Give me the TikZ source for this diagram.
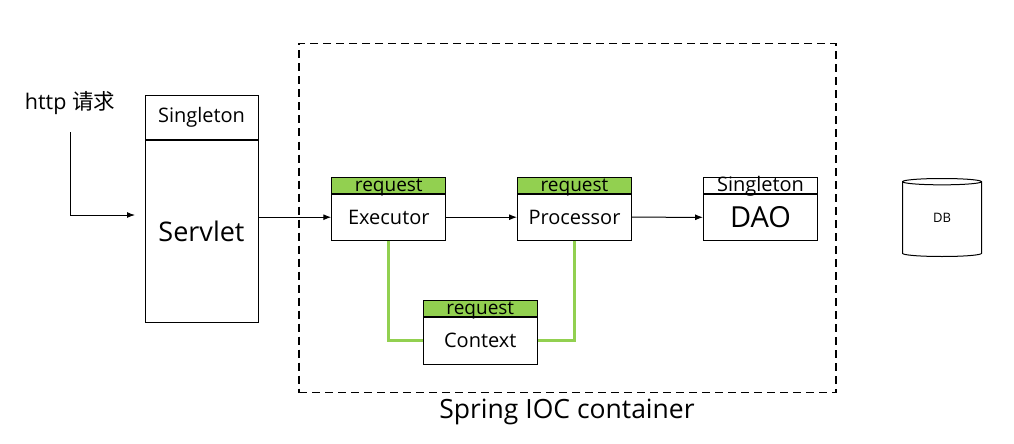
\documentclass[tikz,border=0pt]{standalone}
\usepackage{fontspec}
\setmainfont{Open Sans}
\newfontfamily\cjk{Noto Sans CJK SC}
\usetikzlibrary{shapes.geometric, arrows.meta, positioning}
\definecolor{reqgreen}{HTML}{92D050}
\tikzstyle{bean} = [rectangle, minimum width=114pt, minimum height=46pt, inner sep=0pt, text centered, draw=black, line width=1pt, fill=white, font=\fontsize{20}{22}\selectfont]
\tikzstyle{scope bar} = [rectangle, minimum width=114pt, minimum height=15.7pt, inner sep=0pt, text height=14pt, text depth=1.5pt, text centered, draw=black, line width=1pt, font=\fontsize{19}{20}\selectfont]
\tikzstyle{reqbar} = [scope bar, fill=reqgreen]
\tikzstyle{container} = [rectangle, draw=black, line width=1.5pt, dash pattern=on 8pt off 5pt, minimum width=537pt, minimum height=349pt]
\tikzstyle{arrow} = [line width=1pt,->,>={Latex[length=8pt,width=6pt]}]
\tikzstyle{link} = [line width=3pt, draw=reqgreen]

\begin{document}
\begin{tikzpicture}[x=1pt, y=-1pt]
\useasboundingbox (0,0) rectangle (1014,444);

% IOC container
\node (ioc) [container] at (567.5,218) {};
\node (ioclabel) [font=\fontsize{26.5}{30}\selectfont] at (567,412) {Spring IOC container};

% Request entry
\node (http) [font=\fontsize{21.5}{24}\selectfont] at (70,103) {http {\cjk 请求}};

% Servlet
\node (servlet) [bean, minimum width=113pt, minimum height=181.6pt, font=\fontsize{27}{30}\selectfont] at (201.5,231.5) {Servlet};
\node (servlet_scope) [scope bar, above=0pt of servlet, minimum width=113pt, minimum height=44.7pt, text height=14pt, text depth=4pt, font=\fontsize{20}{22}\selectfont] {Singleton};
\coordinate (servlet_in) at (135,215);

% Request scoped beans
\node (exec) [bean] at (388.8,217.2) {Executor};
\node (exec_scope) [reqbar, above=0pt of exec] {request};
\node (proc) [bean] at (574.5,217.2) {Processor};
\node (proc_scope) [reqbar, above=0pt of proc] {request};
\node (ctx) [bean, minimum height=46.7pt] at (480.3,340.7) {Context};
\node (ctx_scope) [reqbar, above=0pt of ctx] {request};

% DAO
\node (dao) [bean, font=\fontsize{29}{32}\selectfont] at (760.5,217.3) {DAO};
\node (dao_scope) [scope bar, above=0pt of dao, minimum height=16pt, font=\fontsize{20}{22}\selectfont] {Singleton};

% Database
\node (db) [cylinder, shape border rotate=90, draw=black, line width=1pt, aspect=0.95, minimum width=79pt, minimum height=78pt, anchor=shape center] at (942,217.5) {};
\node (db_text) [font=\fontsize{13}{15}\selectfont] at (db.shape center) {DB};

% Arrows
\draw [arrow] ([yshift=-14pt]http.south) |- (servlet_in);
\draw [arrow] (servlet.east |- exec.west) -- (exec.west);
\draw [arrow] (exec.east) -- (proc.west);
\draw [arrow] (proc.east) -- (dao.west);

% Context links
\draw [link] (exec.south) |- (ctx.west);
\draw [link] (proc.south) |- (ctx.east);

\end{tikzpicture}
\end{document}
